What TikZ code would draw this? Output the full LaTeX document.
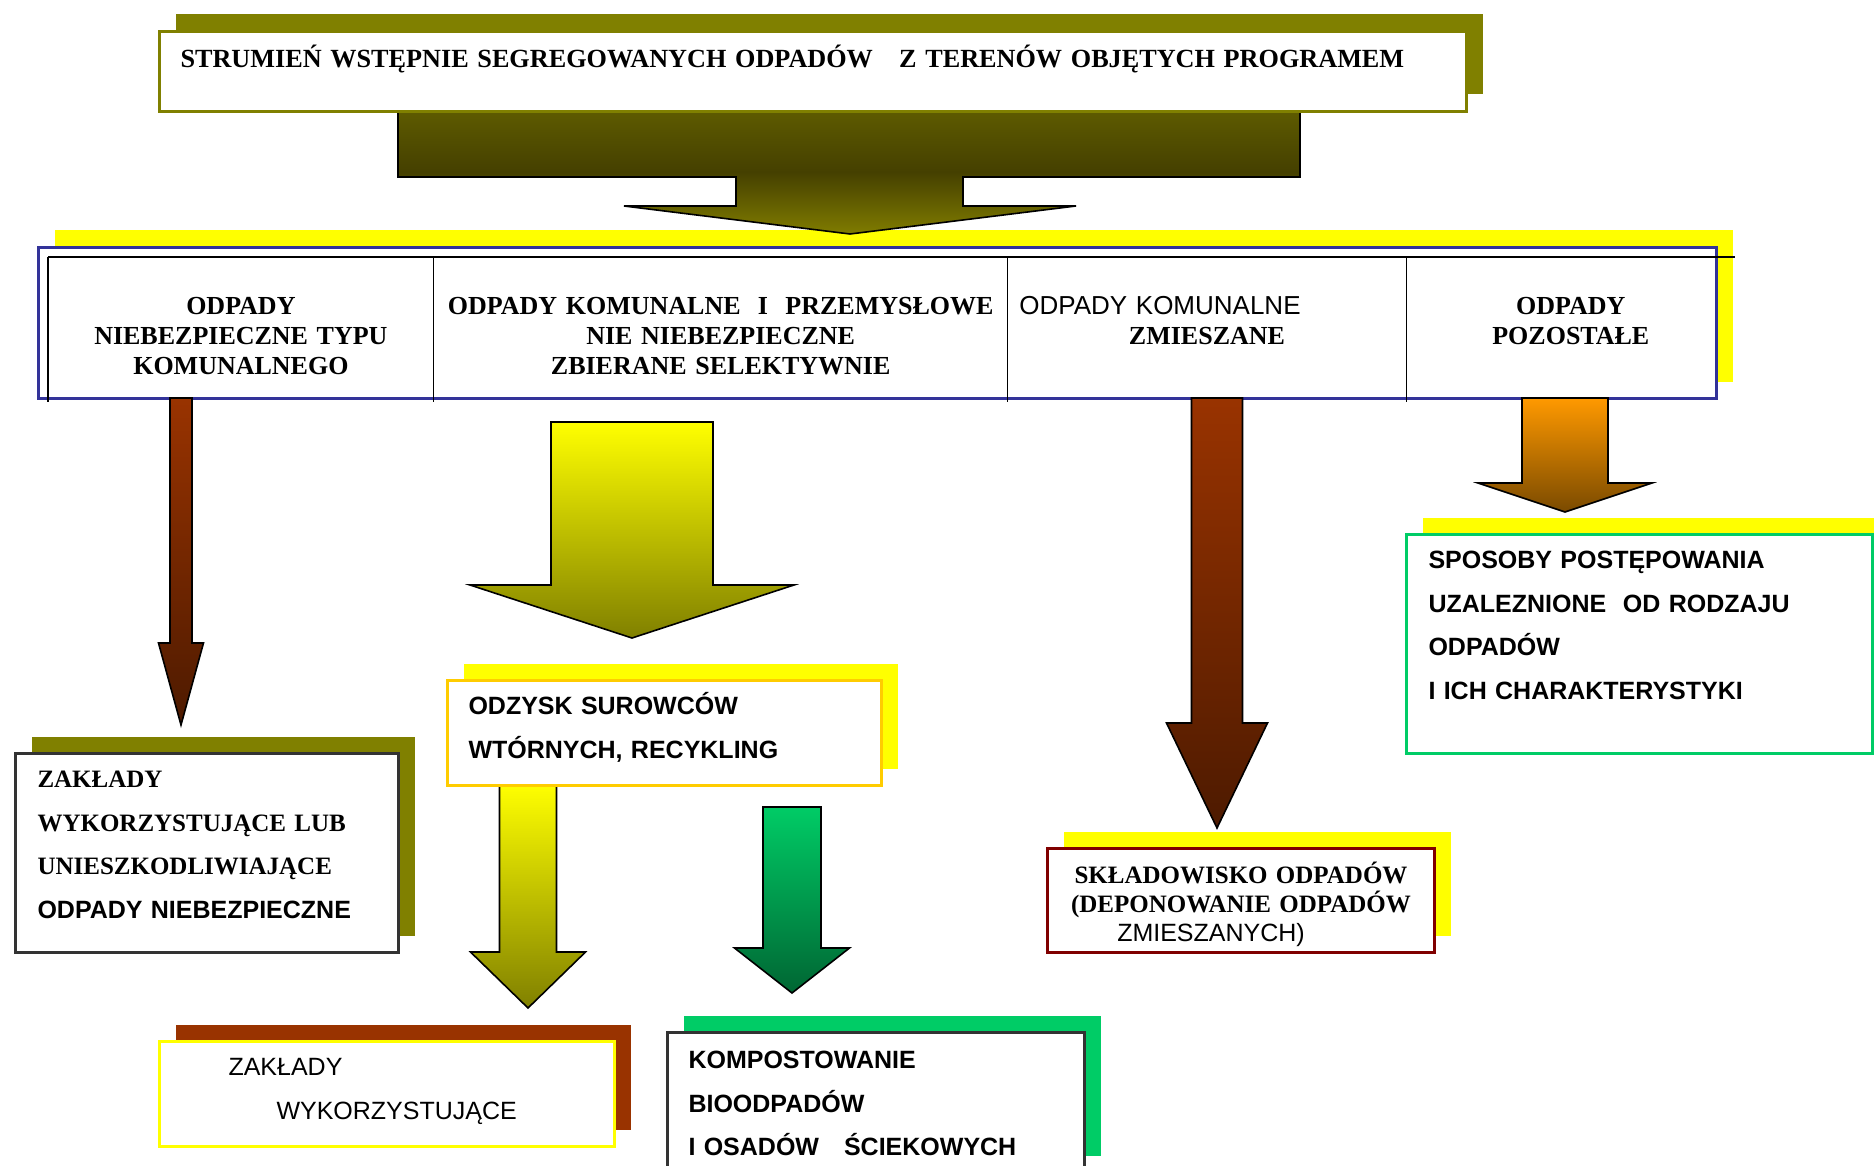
\documentclass[tikz,border=0pt]{standalone}
\usepackage{fontspec}
\setmainfont{Liberation Serif}
\setsansfont{Liberation Sans}
\usepackage{tikz}
\usetikzlibrary{positioning}
\usetikzlibrary{shadows}

\definecolor{olv}{HTML}{808000}
\definecolor{ylw}{HTML}{FFFF00}
\definecolor{gld}{HTML}{FFCC00}
\definecolor{blu}{HTML}{333399}
\definecolor{brn}{HTML}{993300}
\definecolor{brndk}{HTML}{4D1A00}
\definecolor{grn}{HTML}{00CC66}
\definecolor{grndk}{HTML}{006633}
\definecolor{orng}{HTML}{FF9900}
\definecolor{orngdk}{HTML}{7A4A00}
\definecolor{mrn}{HTML}{800000}
\definecolor{drk}{HTML}{333333}
\definecolor{tpa}{HTML}{5E5B00}
\definecolor{tpb}{HTML}{454000}
\definecolor{tpc}{HTML}{807C00}

\newcommand{\fserb}{\rmfamily\bfseries}
\newcommand{\fsansb}{\sffamily\bfseries}
\newcommand{\fsans}{\sffamily\mdseries}
\newcommand{\dnarrow}[7]{\shade[blk,#1] (#2-#3,#4) -- (#2+#3,#4) -- (#2+#3,#5) -- (#2+#6,#5) -- (#2,#7) -- (#2-#6,#5) -- (#2-#3,#5) -- cycle;}

\begin{document}
\begin{tikzpicture}[x=0.5pt,y=-0.5pt,
  blk/.style={draw=black,line width=0.8pt},
  shd/.style={general shadow={fill=#1,shadow xshift=8pt,shadow yshift=8.5pt}},
  box/.style={draw=#1,line width=1.5pt,fill=white,anchor=north west,align=left,inner ysep=0pt,inner xsep=10.5pt,text height=17pt,font=\fsansb\fontsize{12.5}{21.8}\selectfont},
  cell/.style={inner sep=0pt,text height=28.5pt,text depth=41.5pt,align=center,font=\fserb\fontsize{13}{15}\selectfont}]
  \useasboundingbox (0,0) rectangle (1874,1166);

  \node[draw=blu,line width=1.5pt,fill=white,shd=ylw,anchor=north west,inner sep=0pt,minimum width=839pt,minimum height=75.5pt] (frame) at (37,246) {};
  \node[cell,text width=192.5pt,anchor=north west] (c1) at (48,257) {ODPADY\\NIEBEZPIECZNE TYPU\\KOMUNALNEGO};
  \node[cell,text width=286.5pt,right=0pt of c1] (c2) {ODPADY KOMUNALNE\ \ I\ \ PRZEMYSŁOWE\\NIE NIEBEZPIECZNE\\ZBIERANE SELEKTYWNIE};
  \node[cell,text width=199pt,right=0pt of c2] (c3) {\fsans ODPADY KOMUNALNE\mbox{\hspace{47pt}}\\\fserb ZMIESZANE};
  \node[cell,text width=164pt,right=0pt of c3] (c4) {ODPADY\\POZOSTAŁE};
  \draw[line width=0.9pt] (c1.north west) -- (c4.north east);
  \foreach \cl in {c1,c2,c3,c4}
    \draw[line width=0.6pt] (\cl.north west) -- ([yshift=-2pt]\cl.south west);

  \shade[blk,top color=tpa,bottom color=tpc,middle color=tpb] (398,110) -- (1300,110) -- (1300,177) -- (963,177) -- (963,206) -- (1076,206) -- (850,234) -- (624,206) -- (736,206) -- (736,177) -- (398,177) -- cycle;
  \node[box=olv,shd=olv,text width=632.5pt,text height=18pt,text depth=22pt,font=\fserb\fontsize{13.1}{15}\selectfont] (src) at (158,30) {STRUMIEŃ WSTĘPNIE SEGREGOWANYCH ODPADÓW\ \ \ Z TERENÓW OBJĘTYCH PROGRAMEM};

  \dnarrow{top color=brn,bottom color=brndk}{181}{11}{398}{643}{22.5}{725}
  \dnarrow{top color=ylw,bottom color=olv}{632}{81}{422}{585}{162}{638}
  \dnarrow{top color=brn,bottom color=brndk}{1217}{25.5}{398}{723}{50.5}{828}
  \dnarrow{top color=orng,bottom color=orngdk}{1565}{43}{398}{483}{87}{512}
  \dnarrow{top color=ylw,bottom color=olv}{528}{28.5}{784}{952}{57.5}{1008}
  \dnarrow{top color=grn,bottom color=grndk}{792}{29}{807}{948}{57.5}{993}

  \node[box=drk,shd=olv,inner xsep=11pt,text width=169.5pt,text depth=82.5pt] (haz) at (14,752) {\fserb ZAKŁADY\\\fserb WYKORZYSTUJĄCE LUB\\\fserb UNIESZKODLIWIAJĄCE\\\fsansb ODPADY NIEBEZPIECZNE};
  \node[box=gld,shd=ylw,text width=196pt,text depth=35.5pt] (odz) at (446,679) {ODZYSK SUROWCÓW\\WTÓRNYCH, RECYKLING};
  \node[box=ylw,shd=brn,text width=206.5pt,text depth=35.5pt,font=\fsans\fontsize{12.5}{22}\selectfont] (zak) at (158,1040) {\hspace*{24pt}ZAKŁADY\\\hspace*{48pt}WYKORZYSTUJĄCE};
  \node[box=drk,shd=grn,text width=187.5pt,text height=18pt,text depth=52pt] (kmp) at (666,1031) {KOMPOSTOWANIE\\BIOODPADÓW\\I OSADÓW\ \ \ ŚCIEKOWYCH};
  \node[box=mrn,shd=ylw,align=center,inner xsep=0pt,text width=193.5pt,text height=17.5pt,text depth=34.5pt,font=\fserb\fontsize{12.5}{14.5}\selectfont] (skl) at (1046,847) {SKŁADOWISKO ODPADÓW\\(DEPONOWANIE ODPADÓW\\\fsans ZMIESZANYCH)\mbox{\hspace{30pt}}};
  \node[box=grn,shd=ylw,inner xsep=11pt,text width=211pt,text depth=92.5pt] (spo) at (1405,533) {SPOSOBY POSTĘPOWANIA\\UZALEZNIONE\ \ OD RODZAJU\\ODPADÓW\\I ICH CHARAKTERYSTYKI};
\end{tikzpicture}
\end{document}
